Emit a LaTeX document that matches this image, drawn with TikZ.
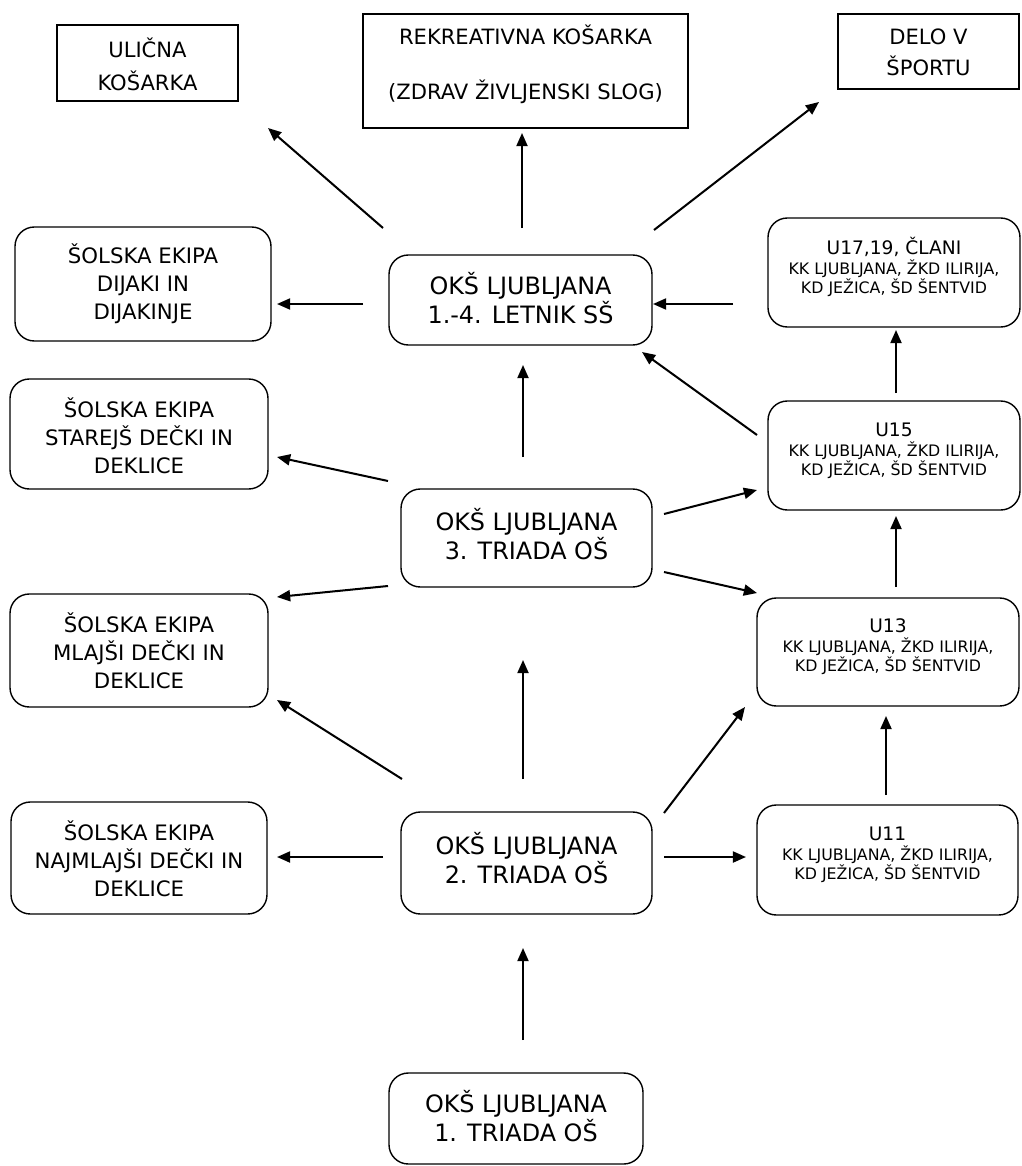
\documentclass[tikz,border=0pt]{standalone}
\usepackage{fontspec}
\setmainfont{DejaVu Sans}
\usetikzlibrary{arrows.meta}
\tikzset{
  sqbox/.style={draw, line width=0.8pt, inner sep=0pt},
  rbox/.style={draw, line width=0.8pt, rounded corners=11pt, inner sep=0pt},
  toptxt/.style={align=center, inner sep=0pt, font=\fontsize{12}{18.8}\selectfont},
  okstxt/.style={align=center, inner sep=0pt, font=\fontsize{13.6}{16.5}\selectfont},
  soltxt/.style={align=center, inner sep=0pt, font=\fontsize{12.1}{15.9}\selectfont},
  utxt/.style={align=center, inner sep=0pt, font=\fontsize{9}{10.8}\selectfont},
  arr/.style={-{Triangle[length=7.5pt,width=6.3pt]}, line width=1.15pt},
}
\newcommand{\ulab}[1]{{\fontsize{10.6}{12.4}\selectfont #1}\\[0.6pt]}
\begin{document}
\begin{tikzpicture}[x=0.02cm, y=-0.02cm]
\useasboundingbox (0,0) rectangle (1021,1166);
% top boxes
\node[sqbox, minimum width=181*0.02cm, minimum height=76*0.02cm] (uli) at (147.5,63) {};
\node[toptxt] (uli-t) at (147.5,64.5) {ULIČNA\\KOŠARKA};
\node[sqbox, minimum width=325*0.02cm, minimum height=114*0.02cm] (rek) at (525.5,71) {};
\node[toptxt, font=\fontsize{12}{15.6}\selectfont] (rek-t) at (525.5,64.5) {REKREATIVNA KOŠARKA\\[15.7pt](ZDRAV ŽIVLJENSKI SLOG)};
\node[sqbox, minimum width=181*0.02cm, minimum height=75*0.02cm] (delo) at (928.5,51.5) {};
\node[toptxt, font=\fontsize{12}{17.6}\selectfont] (delo-t) at (928.5,52) {DELO V\\ŠPORTU};
% left column
\node[rbox, minimum width=256*0.02cm, minimum height=114*0.02cm] (dij) at (143,284) {};
\node[soltxt] (dij-t) at (143,284) {ŠOLSKA EKIPA\\DIJAKI IN\\DIJAKINJE};
\node[rbox, minimum width=258*0.02cm, minimum height=110*0.02cm] (sta) at (139,434) {};
\node[soltxt] (sta-t) at (139,436) {ŠOLSKA EKIPA\\STAREJŠ DEČKI IN\\DEKLICE};
\node[rbox, minimum width=258*0.02cm, minimum height=113*0.02cm] (mla) at (139,650.5) {};
\node[soltxt] (mla-t) at (139,651) {ŠOLSKA EKIPA\\MLAJŠI DEČKI IN\\DEKLICE};
\node[rbox, minimum width=256*0.02cm, minimum height=112*0.02cm] (naj) at (139,858) {};
\node[soltxt] (naj-t) at (139,858.5) {ŠOLSKA EKIPA\\NAJMLAJŠI DEČKI IN\\DEKLICE};
% centre column
\node[rbox, minimum width=263*0.02cm, minimum height=90*0.02cm] (ss) at (520.5,300) {};
\node[okstxt] (ss-t) at (520.5,298.5) {OKŠ LJUBLJANA\\1.-4. LETNIK SŠ};
\node[rbox, minimum width=251*0.02cm, minimum height=98*0.02cm] (t3) at (526.5,538) {};
\node[okstxt] (t3-t) at (526.5,534) {OKŠ LJUBLJANA\\3. TRIADA OŠ};
\node[rbox, minimum width=251*0.02cm, minimum height=102*0.02cm] (t2) at (526.5,863) {};
\node[okstxt] (t2-t) at (526.5,858.5) {OKŠ LJUBLJANA\\2. TRIADA OŠ};
\node[rbox, minimum width=254*0.02cm, minimum height=91*0.02cm] (t1) at (516,1118.5) {};
\node[okstxt] (t1-t) at (516,1116) {OKŠ LJUBLJANA\\1. TRIADA OŠ};
% right column
\node[rbox, minimum width=252*0.02cm, minimum height=109*0.02cm] (u17) at (894,272.5) {};
\node[utxt] (u17-t) at (894,267) {\ulab{U17,19, ČLANI}KK LJUBLJANA, ŽKD ILIRIJA,\\KD JEŽICA, ŠD ŠENTVID};
\node[rbox, minimum width=252*0.02cm, minimum height=109*0.02cm] (u15) at (894,455.5) {};
\node[utxt] (u15-t) at (894,450.5) {\ulab{U15}KK LJUBLJANA, ŽKD ILIRIJA,\\KD JEŽICA, ŠD ŠENTVID};
\node[rbox, minimum width=262*0.02cm, minimum height=108*0.02cm] (u13) at (888,652) {};
\node[utxt] (u13-t) at (888,647) {\ulab{U13}KK LJUBLJANA, ŽKD ILIRIJA,\\KD JEŽICA, ŠD ŠENTVID};
\node[rbox, minimum width=261*0.02cm, minimum height=110*0.02cm] (u11) at (887.5,860) {};
\node[utxt] (u11-t) at (887.5,854.5) {\ulab{U11}KK LJUBLJANA, ŽKD ILIRIJA,\\KD JEŽICA, ŠD ŠENTVID};
% arrow end points
\coordinate (a1s) at (383,228); \coordinate (a1e) at (268,128);
\coordinate (a2s) at (522,228); \coordinate (a2e) at (522,133);
\coordinate (a3s) at (654,230); \coordinate (a3e) at (819,102);
\coordinate (a4s) at (363,304); \coordinate (a4e) at (277,304);
\coordinate (a5s) at (733,304); \coordinate (a5e) at (653,304);
\coordinate (a6s) at (757,435); \coordinate (a6e) at (642,352);
\coordinate (a7s) at (896,393); \coordinate (a7e) at (896,330);
\coordinate (a8s) at (523,457); \coordinate (a8e) at (523,365);
\coordinate (a9s) at (388,481); \coordinate (a9e) at (277,457);
\coordinate (a10s) at (388,586); \coordinate (a10e) at (277,597);
\coordinate (a11s) at (664,514); \coordinate (a11e) at (757,490);
\coordinate (a12s) at (664,572); \coordinate (a12e) at (757,593);
\coordinate (a13s) at (896,587); \coordinate (a13e) at (896,516);
\coordinate (a14s) at (523,779); \coordinate (a14e) at (523,660);
\coordinate (a15s) at (402,779); \coordinate (a15e) at (277,700);
\coordinate (a16s) at (664,813); \coordinate (a16e) at (745,707);
\coordinate (a17s) at (886,795); \coordinate (a17e) at (886,716);
\coordinate (a18s) at (383,857); \coordinate (a18e) at (277,857);
\coordinate (a19s) at (664,857); \coordinate (a19e) at (746,857);
\coordinate (a20s) at (523,1040); \coordinate (a20e) at (523,948);
% arrows
\foreach \i in {1,...,20} {\draw[arr] (a\i s) -- (a\i e);}
\end{tikzpicture}
\end{document}
